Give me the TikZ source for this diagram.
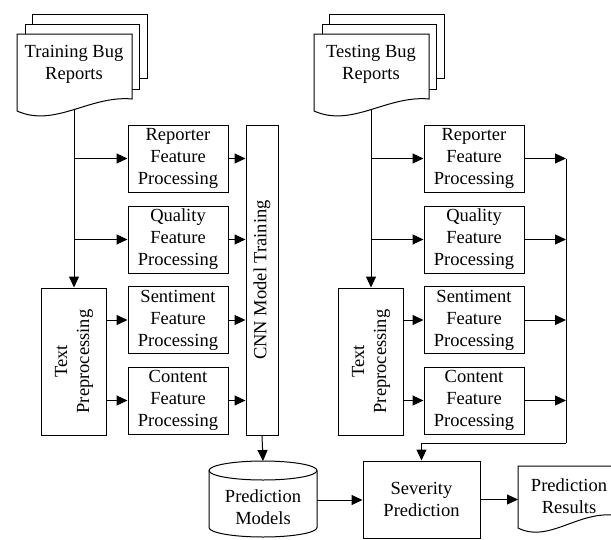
\documentclass[tikz,border=0pt]{standalone}
\usepackage{fontspec}
\setmainfont{Liberation Serif}
\usetikzlibrary{arrows.meta}
\begin{document}
\begin{tikzpicture}[x=1pt,y=-1pt,line width=1pt,
  lbl/.style={align=center,inner sep=0pt,font=\fontsize{18.5}{22}\selectfont},
  box/.style={lbl,draw,fill=white},
  fbox/.style={box,minimum width=100pt,minimum height=67pt},
  arr/.style={-{Triangle[length=11pt,width=10pt]}},
  page/.style={draw,fill=white}]
\useasboundingbox (0,0) rectangle (611,539);

% ---------- left document stack ----------
\draw[page] (32,14) rectangle (147,78);
\draw[page] (25,24) rectangle (139,89);
\draw[page] (17,34) -- (132,34) -- (132,99) .. controls (90,95) and (55,128) .. (17,111) -- cycle;
\node[lbl] (tb) at (74,64) {Training Bug\\Reports};
\coordinate (tbout) at (74,110);

% ---------- right document stack ----------
\draw[page] (329,14) rectangle (444,78);
\draw[page] (322,24) rectangle (436,89);
\draw[page] (314,34) -- (429,34) -- (429,99) .. controls (387,95) and (352,128) .. (314,111) -- cycle;
\node[lbl] (teb) at (371,64) {Testing Bug\\Reports};
\coordinate (tebout) at (371,110);

% ---------- left boxes ----------
\node[fbox] (rep1) at (178,158.5) {Reporter\\Feature\\Processing};
\node[fbox] (qual1) at (178,239.5) {Quality\\Feature\\Processing};
\node[fbox] (sent1) at (178,320) {Sentiment\\Feature\\Processing};
\node[fbox] (cont1) at (178,400.5) {Content\\Feature\\Processing};
\node[box,minimum width=65pt,minimum height=147pt] (tp1) at (74,361.5) {};
\node[lbl,rotate=90] at (tp1.center) {Text\\Preprocessing};
\node[box,minimum width=32pt,minimum height=310pt] (cnn) at (262,280) {};
\node[lbl,rotate=90] at (cnn.center) {CNN Model Training};

\draw[arr] (tbout) -- (tp1.north);
\draw[arr] (tbout |- rep1.west) -- (rep1.west);
\draw[arr] (tbout |- qual1.west) -- (qual1.west);
\draw[arr] (tp1.east |- sent1.west) -- (sent1.west);
\draw[arr] (tp1.east |- cont1.west) -- (cont1.west);
\foreach \n in {rep1,qual1,sent1,cont1}
  \draw[arr] (\n.east) -- (\n.east -| cnn.west);

% ---------- right boxes ----------
\node[fbox] (rep2) at (474,158.5) {Reporter\\Feature\\Processing};
\node[fbox] (qual2) at (474,239.5) {Quality\\Feature\\Processing};
\node[fbox] (sent2) at (474,320) {Sentiment\\Feature\\Processing};
\node[fbox] (cont2) at (474,400.5) {Content\\Feature\\Processing};
\node[box,minimum width=65pt,minimum height=147pt] (tp2) at (371,361.5) {};
\node[lbl,rotate=90] at (tp2.center) {Text\\Preprocessing};

\draw[arr] (tebout) -- (tp2.north);
\draw[arr] (tebout |- rep2.west) -- (rep2.west);
\draw[arr] (tebout |- qual2.west) -- (qual2.west);
\draw[arr] (tp2.east |- sent2.west) -- (sent2.west);
\draw[arr] (tp2.east |- cont2.west) -- (cont2.west);

\coordinate (bustop) at (566,158.5);
\coordinate (busbot) at (566,443);
\draw (bustop) -- (busbot);
\foreach \n in {rep2,qual2,sent2,cont2}
  \draw[arr] (\n.east) -- (\n.east -| bustop);

% ---------- bottom row ----------
\draw (209,470.5) -- (209,527.5) arc[start angle=180,end angle=360,x radius=54pt,y radius=9.5pt] -- (317,470.5);
\draw (263,470.5) ellipse [x radius=54pt,y radius=9.5pt];
\coordinate (cyltop) at (263,461);
\coordinate (cylright) at (317,500);
\node[lbl] (pm) at (263,507) {Prediction\\Models};

\node[box,minimum width=117pt,minimum height=77pt] (sev) at (421.5,499.5) {Severity\\Prediction};

\draw[page] (518,466) -- (620,466) -- (620,516) .. controls (580,508) and (550,544) .. (518,528) -- cycle;
\node[lbl] (pr) at (569,496) {Prediction\\Results};
\coordinate (resin) at (518,499.5);

\draw[arr] (cnn.south) -- (cyltop);
\draw[arr] (busbot) -| (sev.north);
\draw[arr] (cylright) -- (cylright -| sev.west);
\draw[arr] (sev.east) -- (resin);
\end{tikzpicture}
\end{document}
